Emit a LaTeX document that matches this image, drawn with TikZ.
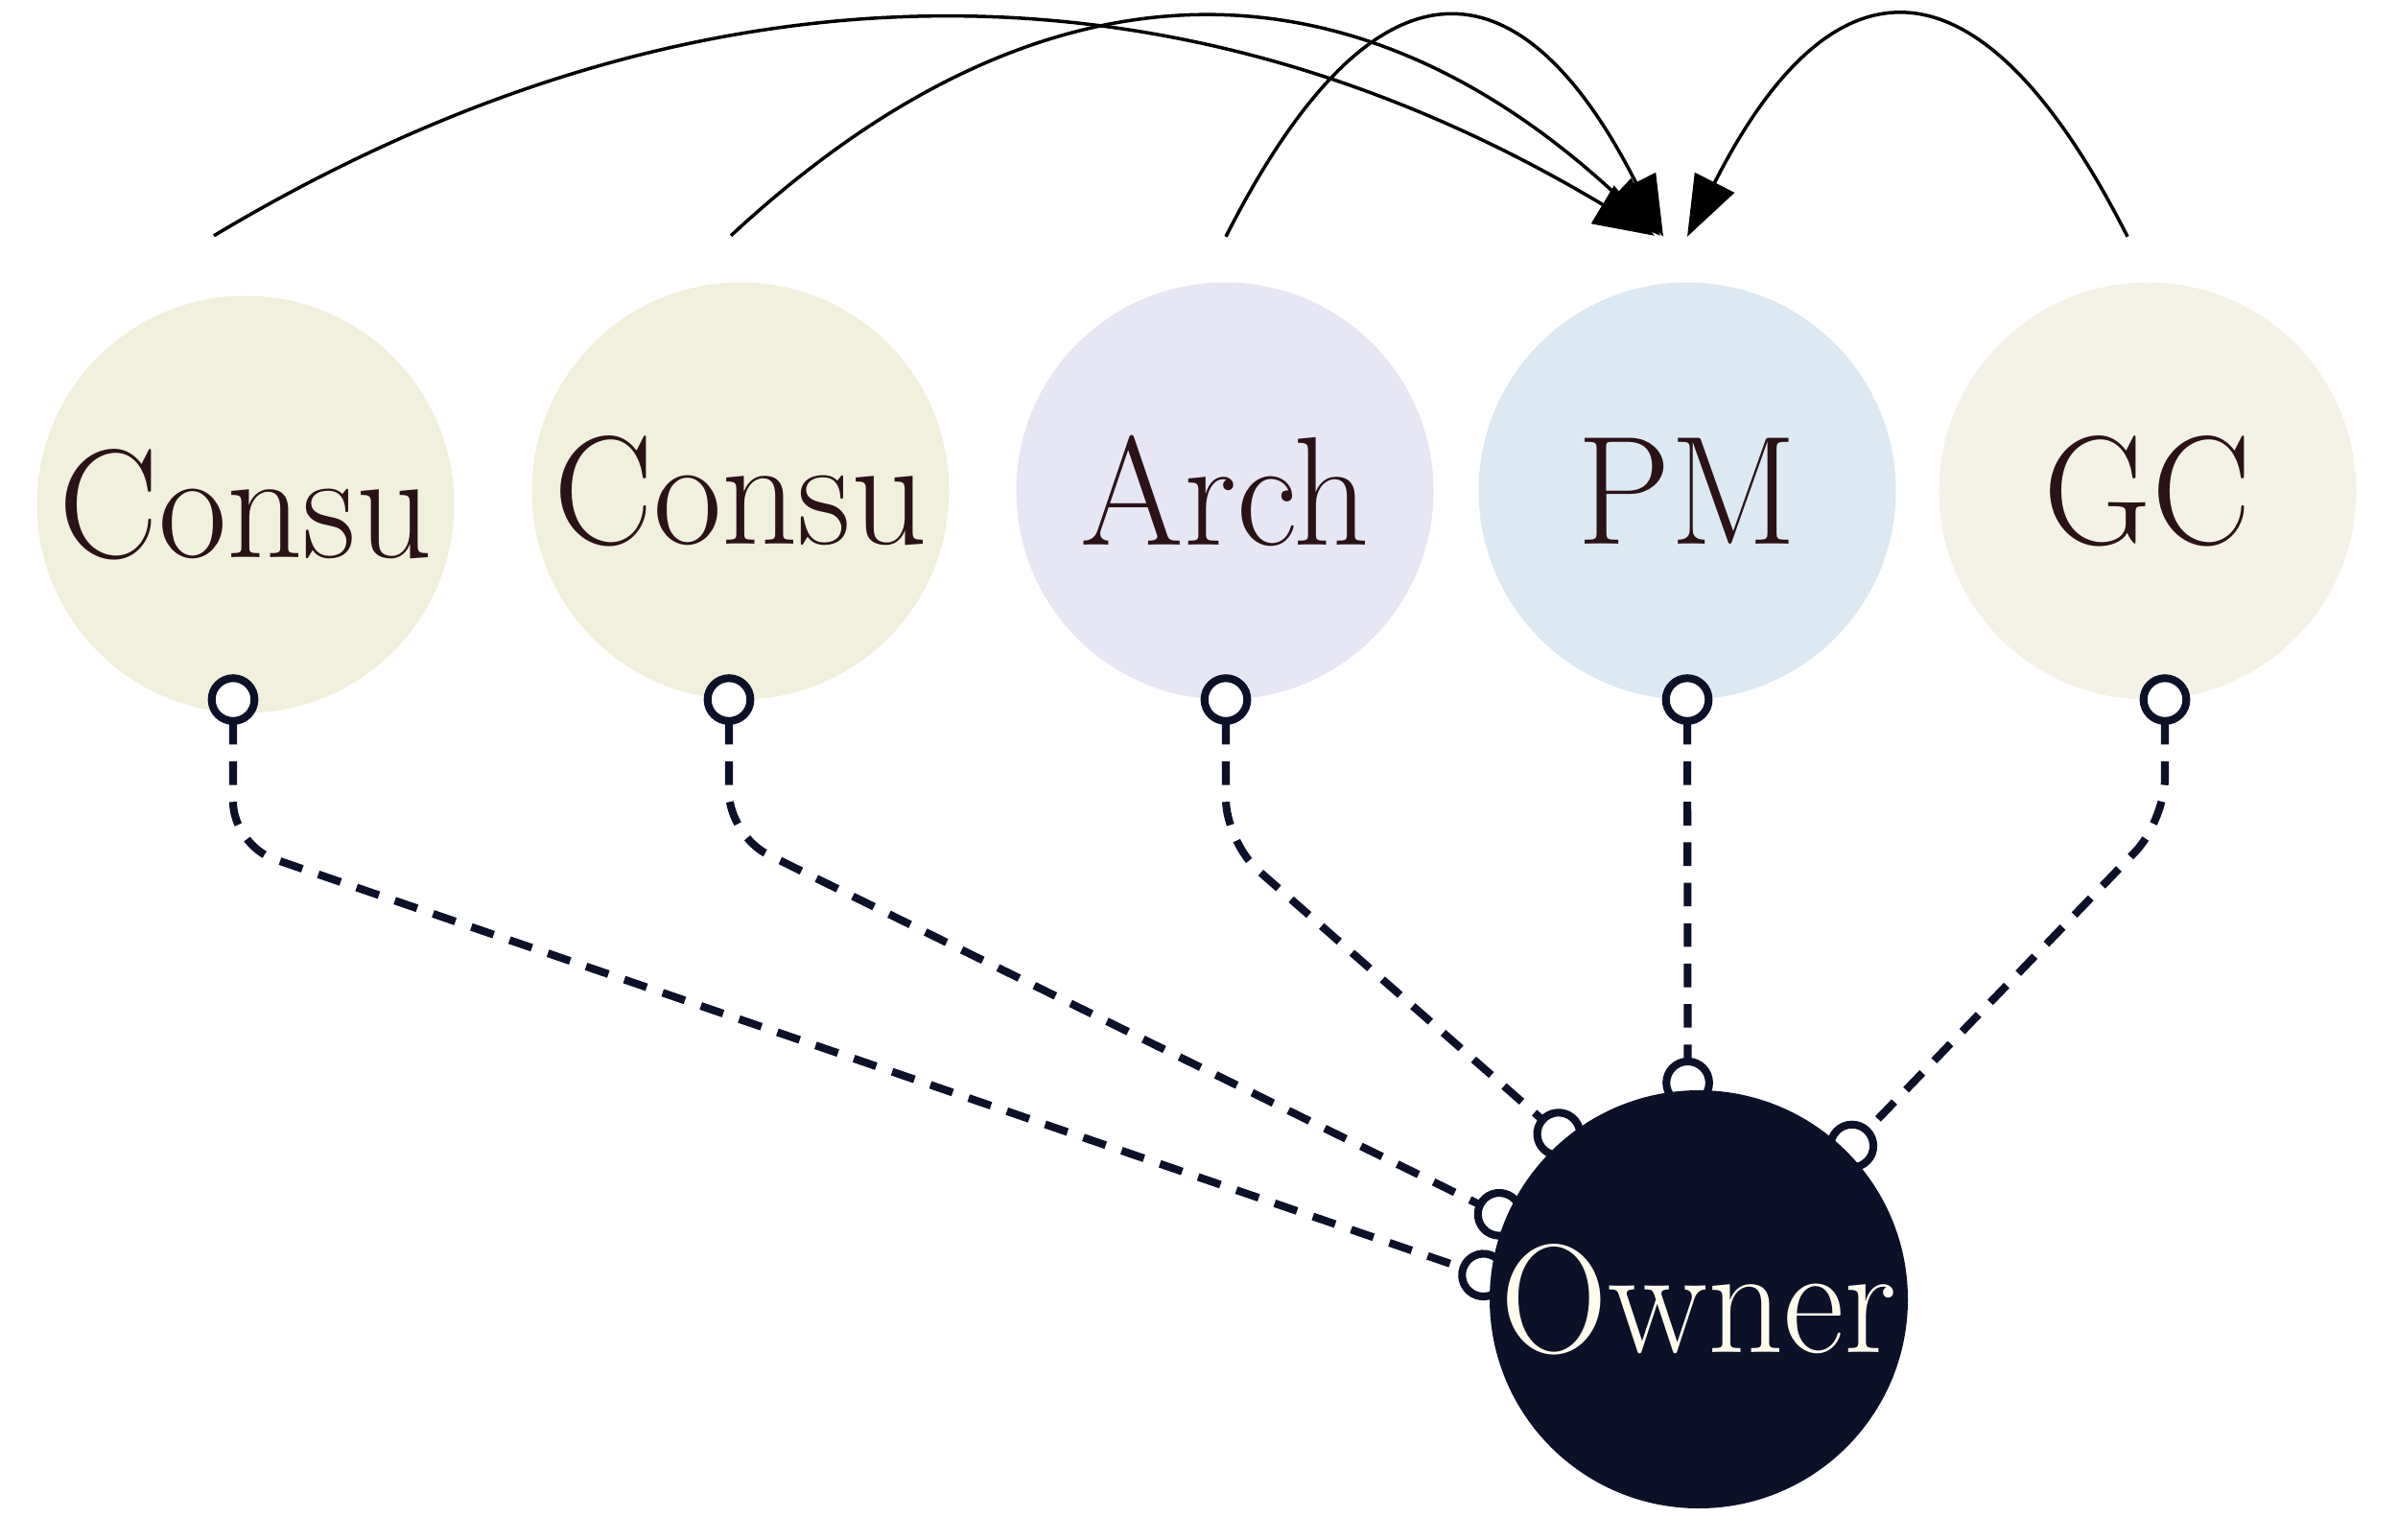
\documentclass[tikz,border=0pt]{standalone}
\usepackage{graphicx}
\usetikzlibrary{arrows.meta}

\definecolor{consuFill}{HTML}{F0F0DC}
\definecolor{archFill}{HTML}{E6E6F4}
\definecolor{pmFill}{HTML}{DCE9F2}
\definecolor{gcFill}{HTML}{F4F2E6}
\definecolor{ownerFill}{HTML}{0C1129}
\definecolor{ownerText}{HTML}{FFFCEE}
\definecolor{inkBrown}{HTML}{2A1216}

\pgfdeclarelayer{front}
\pgfsetlayers{main,front}

\newcommand{\who}[1]{\scalebox{0.96}[1]{#1}}

\tikzset{
  party/.style={circle, minimum size=4.35cm, inner sep=0pt, text=inkBrown,
    font=\fontsize{46}{46}\selectfont},
  tie/.style={draw=ownerFill, line width=2.3pt, dash pattern=on 7pt off 5pt,
    rounded corners=0.45cm, shorten >=-0.19cm,
    {Circle[fill=white,length=15pt]}-{Circle[fill=white,length=15pt]}},
  report/.style={draw=black, line width=1pt, -{Triangle[length=18pt,width=13pt]}},
}

\begin{document}
\begin{tikzpicture}

\useasboundingbox (0,0) rectangle (25,-16.05);

\node[party, fill=consuFill] (consuA) at (2.56,-5.26) {\who{Consu}};
\node[party, fill=consuFill] (consuB) at (7.72,-5.12) {\who{Consu}};
\node[party, fill=archFill] (arch) at (12.77,-5.12) {\who{Arch}};
\node[party, fill=pmFill] (pm) at (17.59,-5.12) {\who{PM}};
\node[party, fill=gcFill] (gc) at (22.39,-5.12) {\who{GC}};

\begin{pgfonlayer}{front}
\node[party, fill=ownerFill, text=ownerText, minimum size=4.36cm] (owner) at (17.71,-13.55) {\who{Owner}};
\end{pgfonlayer}

% ports of the arcs over the top row
\coordinate (consuA-up) at ([shift={(-0.33,0.62)}]consuA.north);
\coordinate (consuB-up) at ([shift={(-0.10,0.48)}]consuB.north);
\coordinate (arch-up) at ([shift={(0.01,0.47)}]arch.north);
\coordinate (gc-up) at ([shift={(-0.21,0.47)}]gc.north);
\coordinate (pm-inA) at ([shift={(-0.34,0.48)}]pm.north);
\coordinate (pm-inB) at ([shift={(-0.28,0.48)}]pm.north);
\coordinate (pm-inC) at ([shift={(-0.25,0.47)}]pm.north);
\coordinate (pm-inD) at ([shift={(0,0.47)}]pm.north);

\foreach \n/\e/\dx in {consuA/A/5.01, consuB/B/3.23, arch/C/1.52}
  \draw[report] (\n-up) .. controls +(\dx,3.0) and +(-\dx,3.0) .. (pm-in\e);
\draw[report] (gc-up) .. controls +(-1.53,3.02) and +(1.53,3.02) .. (pm-inD);

% dashed ties down to the owner
\foreach \n/\dx/\dy/\len/\a in {consuA/-0.13/0.41/1.78/174, consuB/-0.12/0.27/1.68/157, arch/0.01/0.27/1.75/130, gc/0.18/0.27/1.53/45}
  \draw[tie] ([shift={(\dx,\dy)}]\n.south) -- ++(0,-\len) -- (owner.\a);
\draw[tie] ([yshift=0.27cm]pm.south) -- (owner.93);

\end{tikzpicture}
\end{document}
